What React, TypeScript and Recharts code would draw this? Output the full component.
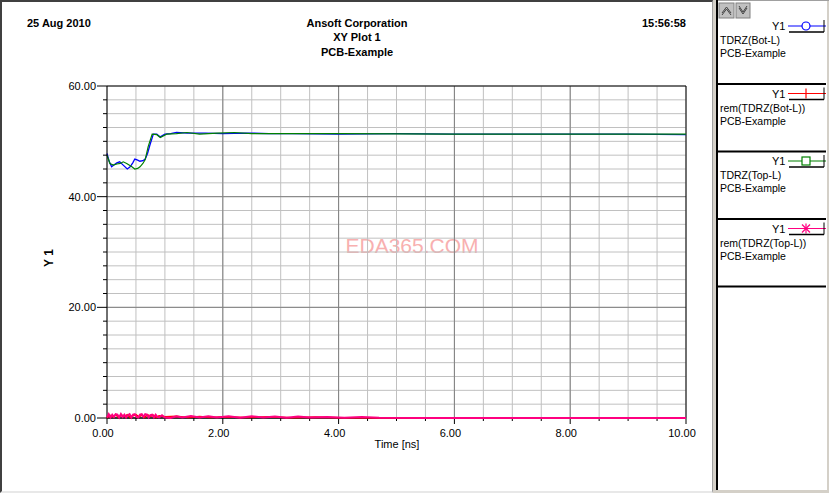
import { LineChart, Line, XAxis, YAxis, CartesianGrid, ReferenceLine } from "recharts";

// tick positions
const xTicks = [0, 0.5, 1, 1.5, 2, 2.5, 3, 3.5, 4, 4.5, 5, 5.5, 6, 6.5, 7, 7.5, 8, 8.5, 9, 9.5, 10];
const yTicks = [0, 2.5, 5, 7.5, 10, 12.5, 15, 17.5, 20, 22.5, 25, 27.5, 30, 32.5, 35, 37.5, 40, 42.5, 45, 47.5, 50, 52.5, 55, 57.5, 60];
const xMajor = [2, 4, 6, 8];
const yMajor = [20, 40];

// TDRZ(Bot-L)
const botLTime = [0, 0.04, 0.08, 0.13, 0.17, 0.22, 0.28, 0.35, 0.4, 0.45, 0.48, 0.53, 0.57, 0.62, 0.66, 0.7, 0.74, 0.8, 0.86, 0.92, 1.0, 1.1, 1.2, 1.4, 1.7, 2.0, 2.4, 2.8, 3.2, 4.0, 5.0, 6.0, 7.0, 8.0, 9.0, 10.0];
const botLValues = [47.8, 46.3, 45.4, 45.8, 46.1, 46.3, 45.7, 45.0, 45.4, 46.2, 46.8, 46.6, 46.4, 46.5, 46.8, 47.8, 49.3, 51.3, 51.3, 50.8, 51.3, 51.4, 51.6, 51.5, 51.5, 51.4, 51.5, 51.4, 51.4, 51.3, 51.4, 51.3, 51.3, 51.3, 51.3, 51.2];

// rem(TDRZ(Bot-L))
const remBotTime = [0, 0.05, 0.1, 0.15, 0.2, 0.25, 0.3, 0.35, 0.4, 0.45, 0.5, 0.55, 0.6, 0.65, 0.7, 0.75, 0.8, 0.85, 0.9, 1.0, 1.2, 1.4, 1.6, 1.8, 2.0, 2.4, 2.8, 3.2, 3.6, 4.0, 5, 6, 8, 10];
const remBotValues = [0, 0.5, 0.2, 0.6, 0.1, 0.5, 0.3, 0.6, 0.1, 0.4, 0.6, 0.2, 0.5, 0.1, 0.6, 0.3, 0.5, 0.1, 0.4, 0.2, 0.3, 0.1, 0.25, 0.1, 0.2, 0.1, 0.2, 0.05, 0.15, 0.05, 0, 0, 0, 0];

// TDRZ(Top-L)
const topLTime = [0, 0.05, 0.11, 0.17, 0.23, 0.28, 0.34, 0.43, 0.48, 0.53, 0.57, 0.62, 0.66, 0.71, 0.78, 0.86, 0.92, 1.03, 1.2, 1.38, 1.6, 1.9, 2.2, 2.5, 3.0, 4.0, 6.0, 8.0, 10.0];
const topLValues = [47.5, 46.0, 45.7, 45.9, 46.0, 46.3, 46.0, 45.4, 45.0, 45.1, 45.4, 46.0, 46.7, 49.0, 51.3, 51.2, 50.7, 51.3, 51.4, 51.6, 51.3, 51.5, 51.6, 51.4, 51.4, 51.4, 51.3, 51.3, 51.3];

// rem(TDRZ(Top-L))
const remTopTime = [0, 0.03, 0.06, 0.09, 0.12, 0.15, 0.18, 0.21, 0.24, 0.27, 0.3, 0.33, 0.36, 0.39, 0.42, 0.45, 0.48, 0.51, 0.54, 0.57, 0.6, 0.63, 0.66, 0.69, 0.72, 0.75, 0.78, 0.81, 0.84, 0.87, 0.9, 0.95, 1.0, 1.1, 1.2, 1.3, 1.45, 1.6, 1.75, 1.9, 2.1, 2.3, 2.5, 2.7, 2.9, 3.1, 3.3, 3.5, 3.8, 4.1, 4.4, 4.7, 5.5, 7, 8.5, 10];
const remTopValues = [0.1, 0.7, 0.1, 0.6, 0.2, 0.7, 0.6, 0.1, 0.7, 0.2, 0.6, 0.1, 0.5, 0.7, 0.1, 0.6, 0.7, 0.2, 0.1, 0.6, 0.7, 0.2, 0.7, 0.6, 0.1, 0.5, 0.6, 0.1, 0.6, 0.2, 0.1, 0.5, 0.1, 0.0, 0.3, 0.1, 0.35, 0.1, 0.3, 0.1, 0.3, 0.05, 0.3, 0.1, 0.25, 0.05, 0.25, 0.1, 0.2, 0.05, 0.2, 0.05, 0, 0, 0, 0];

const toPoints = (ts: number[], vs: number[]) => ts.map((t, i) => ({ t, v: vs[i] }));

const series = [
  { id: "botL", name: "TDRZ(Bot-L)", color: "#0000ff", marker: "circle", data: toPoints(botLTime, botLValues), width: 1.3, rem: false },
  { id: "remBot", name: "rem(TDRZ(Bot-L))", color: "#ff0000", marker: "plus", data: toPoints(remBotTime, remBotValues), width: 1.6, rem: true },
  { id: "topL", name: "TDRZ(Top-L)", color: "#008000", marker: "square", data: toPoints(topLTime, topLValues), width: 1.2, rem: false },
  { id: "remTop", name: "rem(TDRZ(Top-L))", color: "#ff0080", marker: "star", data: toPoints(remTopTime, remTopValues), width: 2, rem: true },
];

const FONT = "'Liberation Sans', Arial, sans-serif";
const W = 712;
const H = 493;
const MARGIN = { top: 86, right: 26, bottom: 45, left: 0 };

const XTick = (props: any) => {
  const { x, y, payload } = props;
  const major = payload.value % 2 === 0;
  return (
    <g>
      <line x1={x} x2={x} y1={y} y2={y + (major ? 6 : 3)} stroke="#000" />
      {major && (
        <text x={x - 4} y={y + 19} textAnchor="middle" fontSize={11} fontFamily={FONT} fill="#000">
          {payload.value.toFixed(2)}
        </text>
      )}
    </g>
  );
};

const YTick = (props: any) => {
  const { x, y, payload } = props;
  const major = payload.value % 20 === 0;
  return (
    <g>
      <line x1={x} x2={x - (major ? 10 : 4)} y1={y} y2={y} stroke="#000" />
      {major && (
        <text x={x - 11} y={y + 4} textAnchor="end" fontSize={11} fontFamily={FONT} fill="#000">
          {payload.value.toFixed(2)}
        </text>
      )}
    </g>
  );
};

const LegendMarker = ({ kind, color, cx, cy }: { kind: string; color: string; cx: number; cy: number }) => {
  if (kind === "circle") return <circle cx={cx} cy={cy} r={4} fill="#fff" stroke={color} strokeWidth={1.2} />;
  if (kind === "plus") return <line x1={cx} x2={cx} y1={cy - 5} y2={cy + 5} stroke={color} strokeWidth={1.2} />;
  if (kind === "square") return <rect x={cx - 4} y={cy - 4} width={8} height={8} fill="#fff" stroke={color} strokeWidth={1.2} />;
  return (
    <g stroke={color} strokeWidth={1.2}>
      <line x1={cx} x2={cx} y1={cy - 5} y2={cy + 5} />
      <line x1={cx - 4} x2={cx + 4} y1={cy - 4} y2={cy + 4} />
      <line x1={cx - 4} x2={cx + 4} y1={cy + 4} y2={cy - 4} />
    </g>
  );
};

export default function App() {
  return (
    <div style={{ position: "absolute", left: 0, top: 0, width: 829, height: 493, background: "#d4d0c8", overflow: "hidden" }}>
      {/* plot panel */}
      <div style={{
        position: "absolute", left: 0, top: 0, width: 710, height: 489, background: "#fff",
        borderLeft: "2px solid #404040", borderTop: "2px solid #404040",
        borderRight: "1px solid #a0a0a0", borderBottom: "2px solid #e8e8e8",
      }} />
      <svg width={W} height={H} style={{ position: "absolute", left: 0, top: 0 }}>
        <text x={412} y={253} textAnchor="middle" fontSize={21} fontFamily={FONT} fill="#f8b0b0">EDA365.COM</text>
      </svg>
      <div style={{ position: "absolute", left: 0, top: 0 }}>
        <LineChart width={W} height={H} margin={MARGIN}>
          <CartesianGrid stroke="#c0c0c0" />
          <XAxis
            dataKey="t" type="number" domain={[0, 10]} ticks={xTicks} interval={0}
            height={30} tickSize={0} tickMargin={0} tickLine={false}
            axisLine={{ stroke: "#000", strokeWidth: 1.5 }} tick={<XTick />}
          />
          <YAxis
            type="number" domain={[0, 60]} ticks={yTicks} interval={0}
            width={107} tickSize={0} tickMargin={0} tickLine={false}
            axisLine={{ stroke: "#000" }} tick={<YTick />}
          />
          {xMajor.map((v) => <ReferenceLine key={"x" + v} x={v} stroke="#808080" />)}
          {yMajor.map((v) => <ReferenceLine key={"y" + v} y={v} stroke="#808080" />)}
          <ReferenceLine y={60} stroke="#000" />
          <ReferenceLine x={10} stroke="#000" />
          {series.filter((s) => !s.rem).map((s) => (
            <Line
              key={s.id} data={s.data} dataKey="v" name={s.name} type="linear"
              stroke={s.color} strokeWidth={s.width} dot={false} isAnimationActive={false}
            />
          ))}
        </LineChart>
      </div>
      {/* remainder traces sit on top of the x axis line */}
      <div style={{ position: "absolute", left: 0, top: 0 }}>
        <LineChart width={W} height={H} margin={{ top: 86, right: 26, bottom: 75, left: 107 }}>
          <XAxis dataKey="t" type="number" domain={[0, 10]} hide />
          <YAxis type="number" domain={[0, 60]} hide />
          {series.filter((s) => s.rem).map((s) => (
            <Line
              key={s.id} data={s.data} dataKey="v" name={s.name} type="linear"
              stroke={s.color} strokeWidth={s.width} dot={false} isAnimationActive={false}
            />
          ))}
        </LineChart>
      </div>
      {/* titles and axis labels */}
      <svg width={W} height={H} style={{ position: "absolute", left: 0, top: 0, pointerEvents: "none" }}>
        <g fontFamily={FONT} fontWeight="bold" fontSize={11} fill="#000">
          <text x={27} y={27}>25 Aug 2010</text>
          <text x={357} y={27} textAnchor="middle">Ansoft Corporation</text>
          <text x={357} y={41} textAnchor="middle">XY Plot 1</text>
          <text x={357} y={56} textAnchor="middle">PCB-Example</text>
          <text x={686} y={27} textAnchor="end">15:56:58</text>
          <text x={53} y={258} textAnchor="middle" fontSize={12} transform="rotate(-90 53 258)">Y 1</text>
        </g>
        <text x={397} y={448} textAnchor="middle" fontFamily={FONT} fontSize={11} fill="#000">Time [ns]</text>
      </svg>
      {/* legend panel */}
      <svg width={113} height={493} style={{ position: "absolute", left: 716, top: 0 }}>
        <rect x={0} y={0} width={111} height={490} fill="#fff" />
        <line x1={0} x2={113} y1={0.5} y2={0.5} stroke="#a0a0a0" />
        <rect x={0} y={0} width={2} height={490} fill="#000" />
        <rect x={3} y={3} width={15} height={15} fill="#c0c0c0" stroke="#808080" />
        <rect x={20} y={3} width={14} height={15} fill="#c0c0c0" stroke="#808080" />
        <polyline points="6,13 10.5,7 15,13" fill="none" stroke="#404040" />
        <polyline points="6,15 10.5,9 15,15" fill="none" stroke="#404040" />
        <polyline points="23,6 27,12 31,6" fill="none" stroke="#404040" />
        <polyline points="23,8 27,14 31,8" fill="none" stroke="#404040" />
        {series.map((s, i) => {
          const top = i * 67.5;
          return (
            <g key={s.id}>
              <text x={56} y={top + 30} fontFamily={FONT} fontSize={11} fill="#000">Y1</text>
              <line x1={72} x2={110} y1={top + 26} y2={top + 26} stroke={s.color} strokeWidth={1.2} />
              <LegendMarker kind={s.marker} color={s.color} cx={90} cy={top + 26} />
              <line x1={73} x2={108} y1={top + 32} y2={top + 32} stroke="#000" strokeWidth={1.5} />
              <line x1={108} x2={108} y1={top + 20} y2={top + 32} stroke="#000" />
              <text x={4} y={top + 44} fontFamily={FONT} fontSize={10.5} fill="#000">{s.name}</text>
              <text x={4} y={top + 57} fontFamily={FONT} fontSize={10.5} fill="#000">PCB-Example</text>
              <line x1={2} x2={110} y1={top + 84} y2={top + 84} stroke="#000" strokeWidth={2} />
            </g>
          );
        })}
      </svg>
    </div>
  );
}
